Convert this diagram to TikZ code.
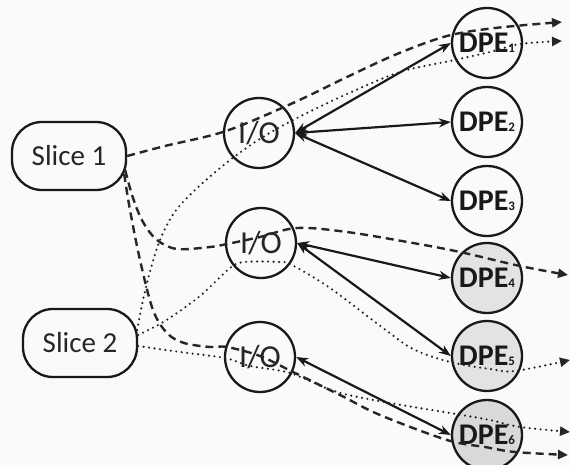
\documentclass[tikz,border=0pt]{standalone}
\usepackage{fontspec}
\setmainfont{Carlito}
\usetikzlibrary{arrows.meta}
\newcommand\dpenum[1]{{\fontsize{13}{13}\selectfont #1}}
\begin{document}
\begin{tikzpicture}[x=1pt,y=-1pt,
  ink/.style={draw=black!90, line width=2.3pt},
  slicebox/.style={ink, rectangle, rounded corners=30pt, minimum width=114pt,
    minimum height=68pt, font=\fontsize{29}{29}\selectfont, text=black!85},
  iobox/.style={ink, circle, minimum size=70pt, inner sep=0pt,
    font=\fontsize{32}{32}\selectfont, text=black!85},
  dpebox/.style={ink, circle, minimum size=70pt, inner sep=0pt,
    font=\bfseries\fontsize{30}{30}\selectfont, text=black!90},
  link/.style={draw=black!90, line width=2.2pt,
    {Stealth[length=12pt,width=9pt]}-{Stealth[length=12pt,width=9pt]}},
  dashpath/.style={draw=black!85, line width=2.4pt, dash pattern=on 8pt off 5pt,
    -{Triangle[length=10pt,width=9pt]}},
  dotpath/.style={draw=black!85, line width=2.4pt, line cap=round,
    dash pattern=on 0pt off 5.5pt, -{Triangle[length=10pt,width=9pt]}},
]
% canvas
\fill[gray!4] (0,0) rectangle (570,465);
\useasboundingbox (0,0) rectangle (570,465);

% slices
\node[slicebox] (s1) at (69,156) {Slice 1};
\node[slicebox] (s2) at (80,343) {Slice 2};

% I/O nodes
\node[iobox] (io1) at (259,133) {I/O};
\node[iobox] (io2) at (261,243) {I/O};
\node[iobox] (io3) at (260,357) {I/O};

% processing elements
\node[dpebox] (d1) at (487,43)  {DPE\dpenum{1}};
\node[dpebox] (d2) at (487,122) {DPE\dpenum{2}};
\node[dpebox] (d3) at (487,201) {DPE\dpenum{3}};
\node[dpebox, fill=gray!22] (d4) at (487,278) {DPE\dpenum{4}};
\node[dpebox, fill=gray!22] (d5) at (487,356) {DPE\dpenum{5}};
\node[dpebox, fill=gray!30] (d6) at (487,435) {DPE\dpenum{6}};

% outgoing ends
\coordinate (e1) at (562,22);
\coordinate (e2) at (568,275);
\coordinate (e3) at (568,455);
\coordinate (e4) at (562,41);
\coordinate (e5) at (570,360);
\coordinate (e6) at (570,432);

% I/O <-> DPE links
\draw[link] (io1.east) -- (d1.west);
\draw[link] (io1.east) -- (d2.west);
\draw[link] (io1.east) -- (d3.west);
\draw[link] (io2.east) -- (d4.west);
\draw[link] (io2.east) -- (d5.west);
\draw[link] (io3.east) -- (d6.west);

% Slice 1 routes (dashed)
\draw[dashpath] plot[smooth, tension=0.55] coordinates {(s1.east) (165,146) (226,131)
  (293,103) (347,77) (397,54) (447,36) (495,28) (e1)};
\draw[dashpath] plot[smooth, tension=0.55] coordinates {([xshift=-2pt,yshift=-14pt]s1.east)
  (133,198) (143,222) (157,240) (177,249) (210,247) (227,244) (260,237) (297,228)
  (347,232) (413,243) (460,252) (520,266) (e2)};
\draw[dashpath] plot[smooth, tension=0.55] coordinates {([xshift=-3pt,yshift=-18pt]s1.east)
  (130,210) (140,260) (153,310) (167,333) (184,343) (210,347) (227,347) (260,356)
  (293,372) (340,395) (380,415) (447,440) (485,447) (515,452) (e3)};

% Slice 2 routes (dotted)
\draw[dotpath] plot[smooth, tension=0.55] coordinates {([xshift=-1pt,yshift=13pt]s2.east)
  (143,300) (151,268) (160,240) (174,213) (195,190) (230,160) (263,137) (297,118)
  (347,94) (400,72) (450,61) (490,52) (520,44) (e4)};
\draw[dotpath] plot[smooth, tension=0.55] coordinates {([xshift=0pt,yshift=8pt]s2.east)
  (165,321) (200,296) (230,268) (245,262) (280,262) (292,265) (330,288) (383,328)
  (413,349) (450,362) (490,369) (515,371) (e5)};
\draw[dotpath] plot[smooth, tension=0.55] coordinates {([xshift=0pt,yshift=-3pt]s2.east)
  (180,352) (225,358) (250,366) (290,373) (337,392) (390,403) (450,413) (490,420)
  (520,427) (e6)};
\end{tikzpicture}
\end{document}
